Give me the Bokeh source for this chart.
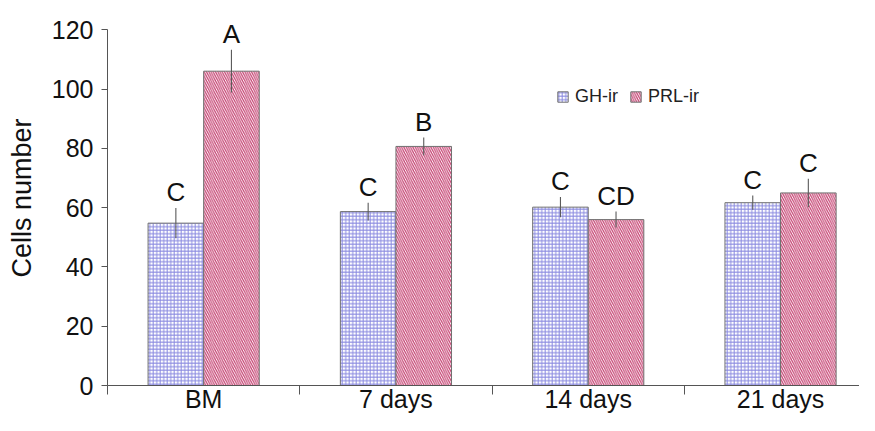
from bokeh.plotting import figure
from bokeh.models import (ColumnDataSource, Range1d, FixedTicker, Legend, LegendItem)
from bokeh.core.properties import value
from bokeh.embed import file_html
from bokeh.resources import INLINE

categories = ["BM", "7 days", "14 days", "21 days"]
gh = [54.8, 58.7, 60.2, 61.7]
gh_err = [5.1, 3.0, 3.4, 2.4]
prl = [106.1, 80.7, 56.0, 65.0]
prl_err = [7.2, 3.0, 2.7, 4.8]
gh_letters = ["C", "C", "C", "C"]
prl_letters = ["A", "B", "CD", "C"]
y_ticks = [0, 20, 40, 60, 80, 100, 120]

FONT = "Liberation Sans"
BAR_W = 0.289
OFF = BAR_W / 2

centers = [i + 0.5 for i in range(len(categories))]
gh_x = [c - OFF for c in centers]
prl_x = [c + OFF for c in centers]

gh_src = ColumnDataSource(dict(x=gh_x, top=gh, lo=[v - e for v, e in zip(gh, gh_err)],
                               hi=[v + e for v, e in zip(gh, gh_err)], lab=gh_letters))
prl_src = ColumnDataSource(dict(x=prl_x, top=prl, lo=[v - e for v, e in zip(prl, prl_err)],
                                hi=[v + e for v, e in zip(prl, prl_err)], lab=prl_letters))

p = figure(width=859, height=415, output_backend="svg", toolbar_location=None,
           x_range=Range1d(0, 3.9106), y_range=Range1d(0, 126.58),
           min_border_left=107, min_border_right=0, min_border_top=10, min_border_bottom=30)
p.outline_line_color = None
p.xgrid.visible = False
p.ygrid.visible = False
p.background_fill_color = "white"

r_gh = p.vbar(x="x", top="top", bottom=0, width=BAR_W, source=gh_src,
              fill_color="white", line_color="#707070", line_width=1,
              hatch_pattern="+", hatch_color="#8a8ae0", hatch_scale=3.5, hatch_weight=1)
r_prl = p.vbar(x="x", top="top", bottom=0, width=BAR_W, source=prl_src,
               fill_color="white", line_color="#707070", line_width=1,
               hatch_pattern="\\", hatch_color="#c43f70", hatch_scale=4.5, hatch_weight=1.2)

for src in (gh_src, prl_src):
    p.segment(x0="x", y0="lo", x1="x", y1="hi", source=src, line_color="#5a5a5a", line_width=1.1)
    p.text(x="x", y="hi", text="lab", source=src, text_font=value(FONT), text_font_size="26px",
           text_align="center", text_baseline="bottom", y_offset=-1, text_color="#111111")

# axes
xa = p.xaxis[0]
xa.ticker = FixedTicker(ticks=centers, minor_ticks=list(range(len(categories) + 1)))
xa.major_label_overrides = {c: lab for c, lab in zip(centers, categories)}
xa.major_tick_out = 0
xa.major_tick_in = 0
xa.minor_tick_out = 9
xa.minor_tick_in = 0
xa.minor_tick_line_color = "#555555"
xa.axis_line_color = "#555555"
xa.major_label_text_font = FONT
xa.major_label_text_font_size = "25px"
xa.major_label_text_color = "#111111"
xa.major_label_standoff = -10

ya = p.yaxis[0]
ya.ticker = FixedTicker(ticks=y_ticks)
ya.bounds = (0, 120)
ya.major_tick_out = 6
ya.major_tick_in = 0
ya.minor_tick_out = 0
ya.minor_tick_in = 0
ya.major_tick_line_color = "#555555"
ya.axis_line_color = "#555555"
ya.major_label_text_font = FONT
ya.major_label_text_font_size = "25px"
ya.major_label_text_color = "#111111"
ya.major_label_standoff = 8
ya.axis_label = "Cells number"
ya.axis_label_text_font = FONT
ya.axis_label_text_font_size = "27px"
ya.axis_label_text_font_style = "normal"
ya.axis_label_text_color = "#111111"
ya.axis_label_standoff = 12

legend = Legend(items=[LegendItem(label="GH-ir", renderers=[r_gh]),
                       LegendItem(label="PRL-ir", renderers=[r_prl])],
                location=(449, 278), orientation="horizontal",
                glyph_width=13, glyph_height=13, label_standoff=6, spacing=11,
                padding=0, margin=0, border_line_alpha=0, background_fill_alpha=0,
                label_text_font=FONT, label_text_font_size="18px", label_text_color="#222222")
p.add_layout(legend)

open("out.html", "w").write(file_html(p, INLINE))
